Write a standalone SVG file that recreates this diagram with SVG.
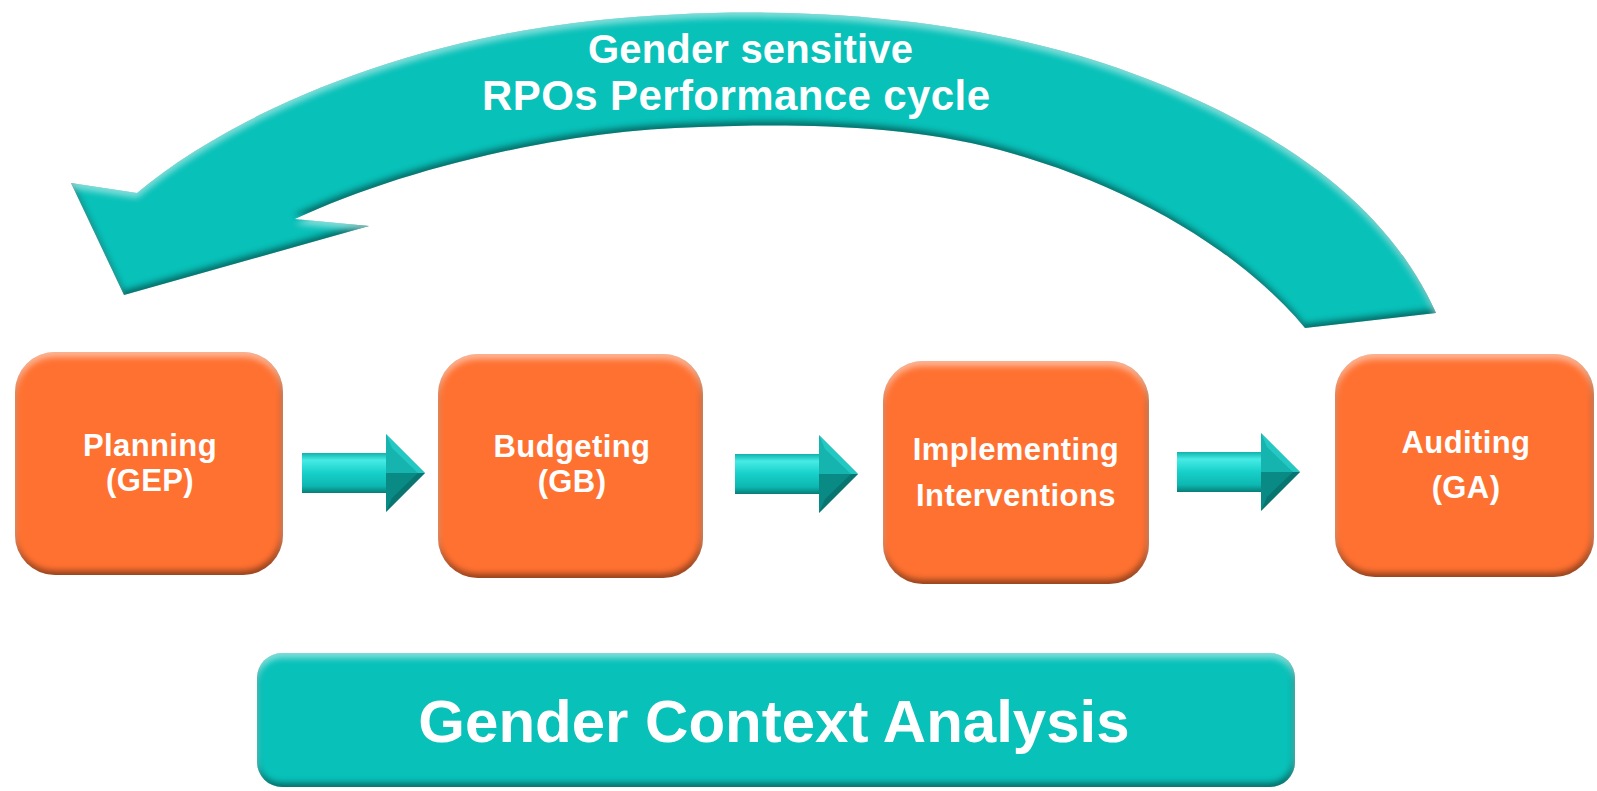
<svg xmlns="http://www.w3.org/2000/svg" width="1597" height="791" viewBox="0 0 1597 791">
  <style>
    .lbl { font-family: "Liberation Sans", Arial, sans-serif; font-weight: bold; fill: #ffffff; }
    .box { fill: #ff7131; }
    .teal { fill: #08c1b9; }
    .step { font-size: 31px; letter-spacing: 0.4px; text-anchor: middle; }
  </style>
  <defs>
    <!-- soft inner bevel: dark lower edge, light upper edge -->
    <filter id="bevel" x="-5%" y="-5%" width="110%" height="110%" color-interpolation-filters="sRGB">
      <feGaussianBlur in="SourceAlpha" stdDeviation="3" result="blur"/>
      <feOffset in="blur" dx="-1" dy="-4" result="up"/>
      <feComposite in="SourceAlpha" in2="up" operator="out" result="lowEdge"/>
      <feFlood flood-color="#000000" flood-opacity="0.45"/>
      <feComposite in2="lowEdge" operator="in" result="shade"/>
      <feOffset in="blur" dx="0" dy="5" result="down"/>
      <feComposite in="SourceAlpha" in2="down" operator="out" result="highEdge"/>
      <feFlood flood-color="#ffffff" flood-opacity="0.5"/>
      <feComposite in2="highEdge" operator="in" result="shine"/>
      <feMerge>
        <feMergeNode in="SourceGraphic"/>
        <feMergeNode in="shade"/>
        <feMergeNode in="shine"/>
      </feMerge>
    </filter>
    <linearGradient id="shaft" x1="0" y1="0" x2="0" y2="1">
      <stop offset="0" stop-color="#10b3ac"/>
      <stop offset="0.18" stop-color="#46ebe5"/>
      <stop offset="0.5" stop-color="#16d0c9"/>
      <stop offset="0.82" stop-color="#0db8b1"/>
      <stop offset="1" stop-color="#077d78"/>
    </linearGradient>
    <!-- block arrow, origin at left end of the shaft centre line -->
    <g id="blockArrow">
      <rect x="0" y="-20" width="86" height="40" fill="url(#shaft)"/>
      <polygon points="84,-39 123,0 84,0" fill="#15b4ae"/>
      <polygon points="84,0 123,0 84,39" fill="#0a8a85"/>
      <polygon points="84,-39 90,-25 116,0 123,0" fill="#2fd6d0" opacity="0.6"/>
      <polygon points="84,39 90,25 116,0 123,0" fill="#065f5b" opacity="0.5"/>
    </g>
  </defs>

  <rect width="1597" height="791" fill="#ffffff"/>

  <!-- curved return arrow with its caption -->
  <g id="cycle">
    <path class="teal" filter="url(#bevel)" d="M137,193 C230,115 400,40 600,20 C800,0 1000,20 1150,80 C1290,135 1390,210 1436,313 L1305,328 C1240,250 1130,185 1000,150 C900,123 780,124 700,127 C560,130 400,170 295,219 L369,226 L124,295 L71,183 Z"/>
    <text class="lbl" x="588" y="63" font-size="40" textLength="325" lengthAdjust="spacing">Gender sensitive</text>
    <text class="lbl" x="482" y="110" font-size="42" textLength="508" lengthAdjust="spacing">RPOs Performance cycle</text>
  </g>

  <g id="planning">
    <rect class="box" filter="url(#bevel)" x="15" y="352" width="268" height="223" rx="40"/>
    <text class="lbl step" x="150" y="456">Planning</text>
    <text class="lbl step" x="150" y="491">(GEP)</text>
  </g>

  <g id="budgeting">
    <rect class="box" filter="url(#bevel)" x="438" y="354" width="265" height="224" rx="40"/>
    <text class="lbl step" x="572" y="457">Budgeting</text>
    <text class="lbl step" x="572" y="492">(GB)</text>
  </g>

  <g id="implementing">
    <rect class="box" filter="url(#bevel)" x="883" y="361" width="266" height="223" rx="40"/>
    <text class="lbl step" x="1016" y="460">Implementing</text>
    <text class="lbl step" x="1016" y="506">Interventions</text>
  </g>

  <g id="auditing">
    <rect class="box" filter="url(#bevel)" x="1335" y="354" width="259" height="223" rx="40"/>
    <text class="lbl step" x="1466" y="453">Auditing</text>
    <text class="lbl step" x="1466" y="498">(GA)</text>
  </g>

  <g id="context">
    <rect class="teal" filter="url(#bevel)" x="257" y="653" width="1038" height="134" rx="25"/>
    <text class="lbl" x="774" y="742" font-size="60" text-anchor="middle">Gender Context Analysis</text>
  </g>

  <g id="connectors">
    <use href="#blockArrow" transform="translate(302,473)"/>
    <use href="#blockArrow" transform="translate(735,474)"/>
    <use href="#blockArrow" transform="translate(1177,472)"/>
  </g>
</svg>
